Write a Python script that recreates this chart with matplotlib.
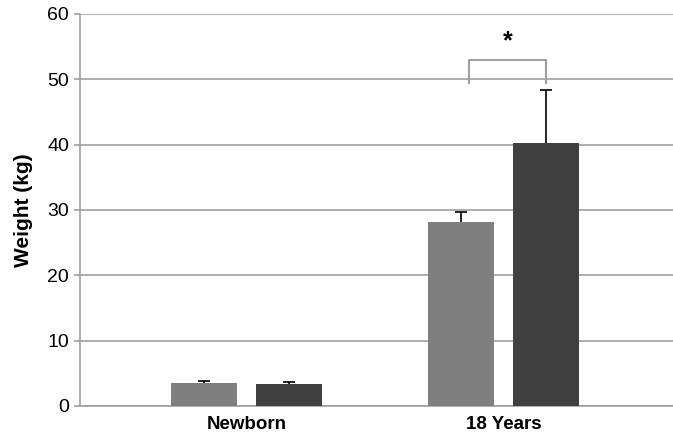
import numpy as np
import matplotlib.pyplot as plt

plt.rcParams['font.family'] = ['Liberation Sans', 'DejaVu Sans']

groups = ['Newborn', '18 Years']
light_vals = [3.45, 28.2]
light_err = [0.4, 1.5]
dark_vals = [3.3, 40.3]
dark_err = [0.35, 8.0]

light_col = '#7f7f7f'
dark_col = '#404040'
grid_col = '#a0a0a0'

fig = plt.figure(figsize=(6.73, 4.38), dpi=100)
ax = fig.add_axes([80 / 673, 32 / 438, 593 / 673, 392 / 438])

x = np.arange(len(groups))
w = 0.257
off = 0.165

ax.bar(x - off, light_vals, w, color=light_col, zorder=3)
ax.bar(x + off, dark_vals, w, color=dark_col, zorder=3)
for xs, vals, errs in [(x - off, light_vals, light_err), (x + off, dark_vals, dark_err)]:
    eb = ax.errorbar(xs, vals, yerr=[np.zeros(2), errs], fmt='none',
                     ecolor='black', elinewidth=1.2, capsize=4, capthick=1.2, zorder=4)
    # only the upper cap is shown
    eb[1][0].set_visible(False)

# significance bracket
bx0, bx1 = 0.866, 1.164
ax.plot([bx0, bx0, bx1, bx1], [49.5, 53.0, 53.0, 49.5], color=grid_col, lw=1.5, zorder=4)
ax.text((bx0 + bx1) / 2, 55.8, '*', ha='center', va='center', fontsize=18, fontweight='bold')

ax.set_ylim(0, 60)
ax.set_xlim(-0.648, 1.66)
ax.set_yticks(np.arange(0, 61, 10))
ax.set_xticks(x)
ax.set_xticklabels(groups, fontsize=13.5, fontweight='bold')
ax.tick_params(axis='x', length=0, pad=7)
ax.tick_params(axis='y', length=4, width=1.2, color=grid_col, labelsize=14, pad=4)
ax.yaxis.grid(True, color=grid_col, lw=1.2, zorder=0)
ax.set_axisbelow(True)

for s in ['top', 'right']:
    ax.spines[s].set_visible(False)
ax.spines['left'].set_color(grid_col)
ax.spines['left'].set_linewidth(1.2)
ax.spines['bottom'].set_color(grid_col)
ax.spines['bottom'].set_linewidth(1.2)

ax.set_ylabel('Weight (kg)', fontsize=15, fontweight='bold', labelpad=10)

fig.savefig('out.png', dpi=100)
